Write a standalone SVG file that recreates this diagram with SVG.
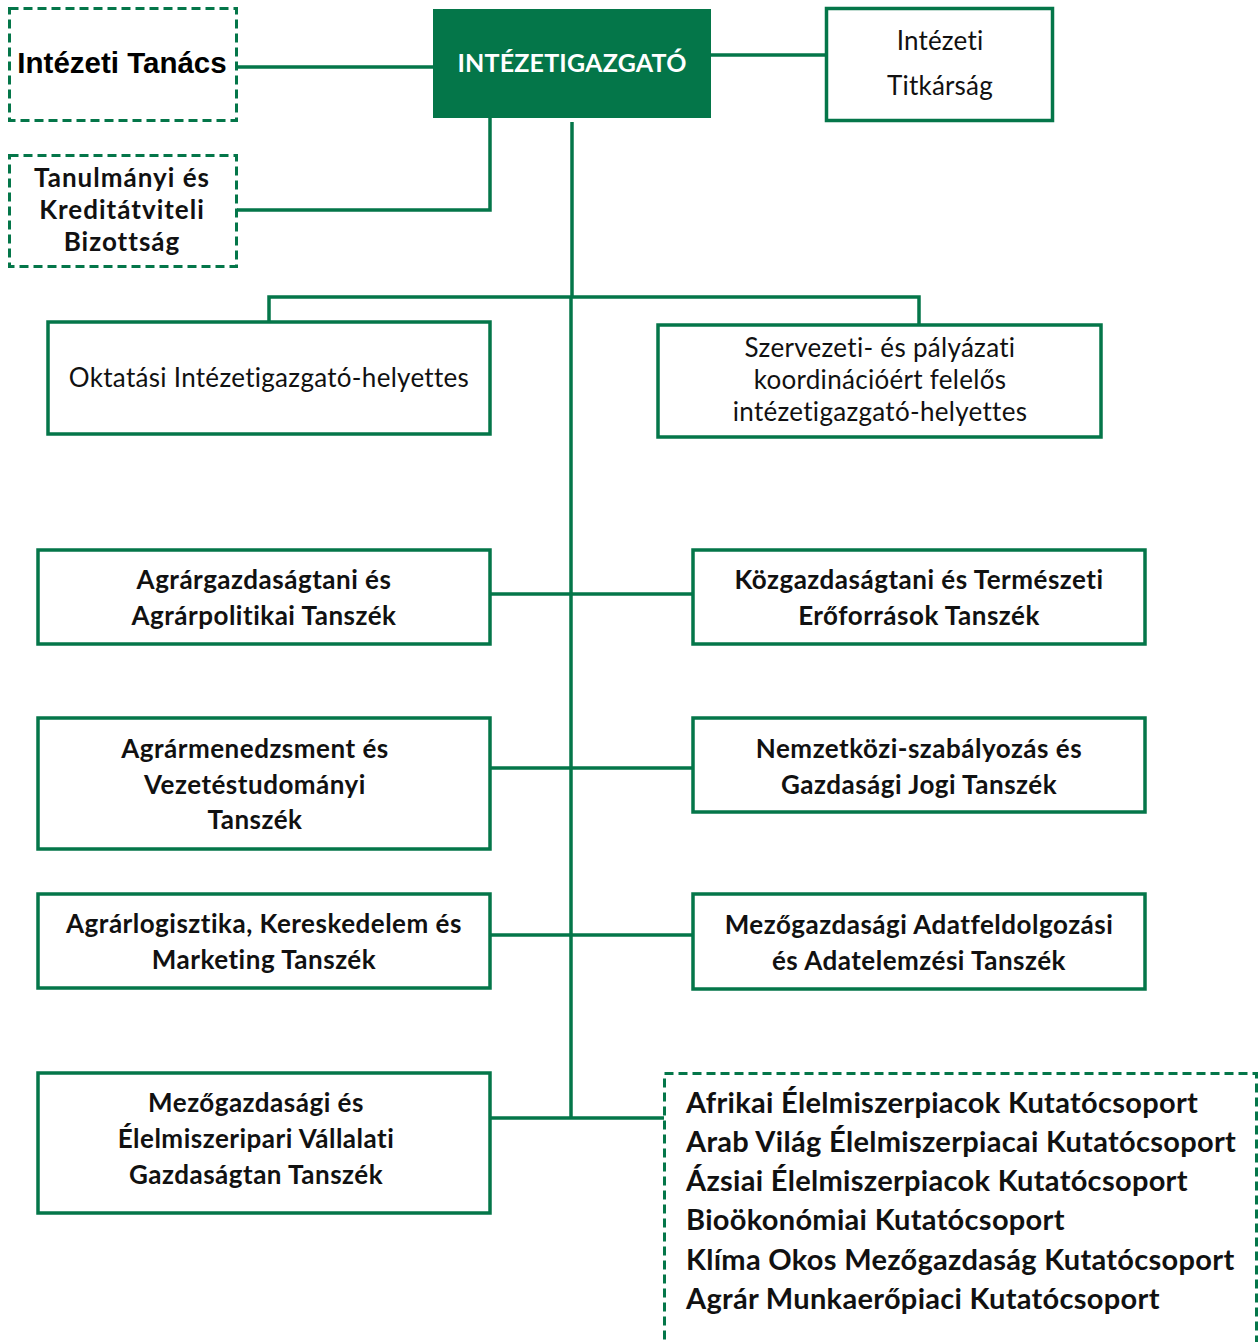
<svg xmlns="http://www.w3.org/2000/svg" width="1260" height="1342" viewBox="0 0 1260 1342">
<style>
.box{fill:#fff;stroke:#047649;stroke-width:3.5}
.dbox{fill:#fff;stroke:#047649;stroke-width:3;stroke-dasharray:9 5}
.main{fill:#047649;stroke:none}
.ln{fill:none;stroke:#047649;stroke-width:3.5}
.t{font-family:Lato,"Noto Sans",sans-serif;font-size:26px;fill:#111;text-anchor:middle;letter-spacing:0.3px}
.b{font-weight:bold;letter-spacing:0.5px}
.l{text-anchor:start}
.k{font-size:29px;letter-spacing:0.3px}
</style>
<rect width="1260" height="1342" fill="#fff"/>
<g id="connectors">
<path class="ln" d="M237 67H433"/>
<path class="ln" d="M711 55H826"/>
<path class="ln" d="M490 118V210H237"/>
<path class="ln" d="M572 122V297"/>
<path class="ln" d="M571 297V1118"/>
<path class="ln" d="M269 321V297H919V324"/>
<path class="ln" d="M490 594H693"/>
<path class="ln" d="M490 768H693"/>
<path class="ln" d="M490 935H693"/>
<path class="ln" d="M490 1118H664"/>
</g>
<g id="intezeti-tanacs">
<rect class="dbox" x="9.5" y="8.5" width="227" height="112"/>
<text x="122" y="73" style="font-family:'Liberation Sans',Arial,sans-serif;font-size:29.5px;font-weight:bold;text-anchor:middle;fill:#000">Intézeti Tanács</text>
</g>
<g id="intezetigazgato">
<rect class="main" x="433" y="9" width="278" height="109"/>
<text class="t b" x="572" y="72" style="fill:#fff;font-size:25px;letter-spacing:0.2px">INTÉZETIGAZGATÓ</text>
</g>
<g id="titkarsag">
<rect class="box" x="826.5" y="8.5" width="226" height="112"/>
<text class="t" x="940" y="50" style="font-size:26px;letter-spacing:0.2px">Intézeti</text>
<text class="t" x="940" y="95" style="font-size:26px;letter-spacing:0.2px">Titkárság</text>
</g>
<g id="tanulmanyi">
<rect class="dbox" x="9.5" y="155.5" width="227" height="111"/>
<text class="t b" x="122" y="187" style="letter-spacing:1px">Tanulmányi és</text>
<text class="t b" x="122" y="219" style="letter-spacing:1px">Kreditátviteli</text>
<text class="t b" x="122" y="251" style="letter-spacing:1px">Bizottság</text>
</g>
<g id="oktatasi">
<rect class="box" x="48" y="322" width="442" height="112"/>
<text class="t" x="269" y="387">Oktatási Intézetigazgató-helyettes</text>
</g>
<g id="szervezeti">
<rect class="box" x="658" y="325" width="443" height="112"/>
<text class="t" x="880" y="357">Szervezeti- és pályázati</text>
<text class="t" x="880" y="389">koordinációért felelős</text>
<text class="t" x="880" y="421">intézetigazgató-helyettes</text>
</g>
<g id="agrargazdasagtani">
<rect class="box" x="38" y="550" width="452" height="94"/>
<text class="t b" x="264" y="589">Agrárgazdaságtani és</text>
<text class="t b" x="264" y="625">Agrárpolitikai Tanszék</text>
</g>
<g id="kozgazdasagtani">
<rect class="box" x="693" y="550" width="452" height="94"/>
<text class="t b" x="919" y="589">Közgazdaságtani és Természeti</text>
<text class="t b" x="919" y="625">Erőforrások Tanszék</text>
</g>
<g id="agrarmenedzsment">
<rect class="box" x="38" y="718" width="452" height="131"/>
<text class="t b" x="255" y="758">Agrármenedzsment és</text>
<text class="t b" x="255" y="794">Vezetéstudományi</text>
<text class="t b" x="255" y="829">Tanszék</text>
</g>
<g id="nemzetkozi">
<rect class="box" x="693" y="718" width="452" height="94"/>
<text class="t b" x="919" y="758">Nemzetközi-szabályozás és</text>
<text class="t b" x="919" y="794">Gazdasági Jogi Tanszék</text>
</g>
<g id="agrarlogisztika">
<rect class="box" x="38" y="894" width="452" height="94"/>
<text class="t b" x="264" y="933">Agrárlogisztika, Kereskedelem és</text>
<text class="t b" x="264" y="969">Marketing Tanszék</text>
</g>
<g id="adatfeldolgozasi">
<rect class="box" x="693" y="894" width="452" height="95"/>
<text class="t b" x="919" y="934">Mezőgazdasági Adatfeldolgozási</text>
<text class="t b" x="919" y="970">és Adatelemzési Tanszék</text>
</g>
<g id="vallalati">
<rect class="box" x="38" y="1073" width="452" height="140"/>
<text class="t b" x="256" y="1112">Mezőgazdasági és</text>
<text class="t b" x="256" y="1148">Élelmiszeripari Vállalati</text>
<text class="t b" x="256" y="1184">Gazdaságtan Tanszék</text>
</g>
<g id="kutatocsoportok">
<rect class="dbox" x="664.5" y="1073.5" width="592" height="290"/>
<text class="t b l k" x="686" y="1113">Afrikai Élelmiszerpiacok Kutatócsoport</text>
<text class="t b l k" x="686" y="1152">Arab Világ Élelmiszerpiacai Kutatócsoport</text>
<text class="t b l k" x="686" y="1191">Ázsiai Élelmiszerpiacok Kutatócsoport</text>
<text class="t b l k" x="686" y="1230">Bioökonómiai Kutatócsoport</text>
<text class="t b l k" x="686" y="1270">Klíma Okos Mezőgazdaság Kutatócsoport</text>
<text class="t b l k" x="686" y="1309">Agrár Munkaerőpiaci Kutatócsoport</text>
</g>
</svg>
